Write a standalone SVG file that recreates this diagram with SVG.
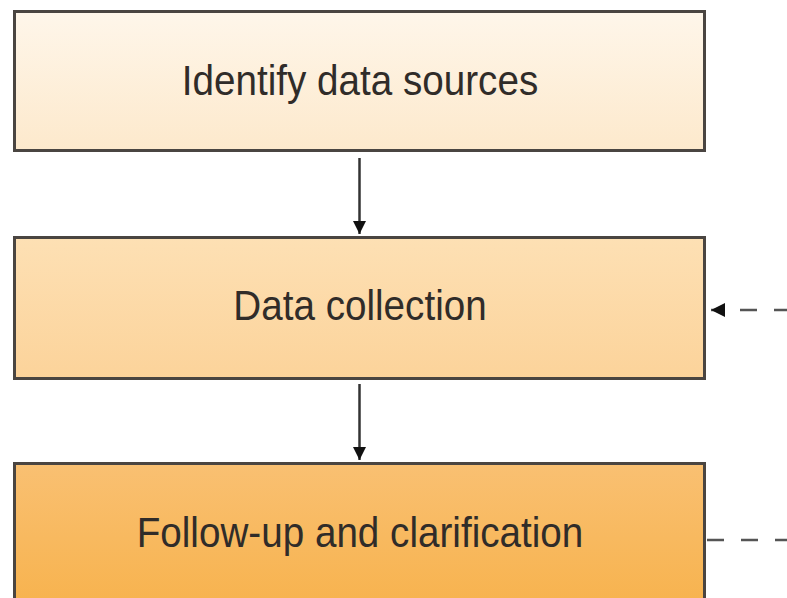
<svg xmlns="http://www.w3.org/2000/svg" width="787" height="598" viewBox="0 0 787 598">
  <defs>
    <linearGradient id="g1" x1="0" y1="0" x2="0" y2="1">
      <stop offset="0" stop-color="#fef6ea"/>
      <stop offset="1" stop-color="#fde9cc"/>
    </linearGradient>
    <linearGradient id="g2" x1="0" y1="0" x2="0" y2="1">
      <stop offset="0" stop-color="#fde0b4"/>
      <stop offset="1" stop-color="#fcd39a"/>
    </linearGradient>
    <linearGradient id="g3" x1="0" y1="0" x2="0" y2="1">
      <stop offset="0" stop-color="#f9c072"/>
      <stop offset="1" stop-color="#f7b24c"/>
    </linearGradient>
    <marker id="arrow" viewBox="0 0 10 10" refX="10" refY="5" markerWidth="15" markerHeight="13" markerUnits="userSpaceOnUse" orient="auto">
      <path d="M0,0 L10,5 L0,10 Z" fill="#111"/>
    </marker>
    <marker id="arrowL" viewBox="0 0 10 10" refX="10" refY="5" markerWidth="18" markerHeight="14" markerUnits="userSpaceOnUse" orient="auto">
      <path d="M0,0 L10,5 L0,10 Z" fill="#111"/>
    </marker>
  </defs>
  <style>
    .box { stroke: #4a4541; stroke-width: 3; }
    .label { font-family: "Liberation Sans", Arial, sans-serif; font-size: 42px; fill: #302c29; text-anchor: middle; }
    .flow { stroke: #333; stroke-width: 2.5; fill: none; }
    .dash { stroke: #555; stroke-width: 2.5; fill: none; stroke-dasharray: 17 17; }
  </style>
  <rect width="787" height="598" fill="#ffffff"/>

  <g id="node-identify">
    <rect class="box" x="14.5" y="11.5" width="690" height="139" fill="url(#g1)"/>
    <text class="label" transform="translate(360 95) scale(0.92 1)">Identify data sources</text>
  </g>

  <g id="node-collection">
    <rect class="box" x="14.5" y="237.5" width="690" height="141" fill="url(#g2)"/>
    <text class="label" transform="translate(360 320) scale(0.92 1)">Data collection</text>
  </g>

  <g id="node-followup">
    <rect class="box" x="14.5" y="463.5" width="690" height="150" fill="url(#g3)"/>
    <text class="label" transform="translate(360 547) scale(0.92 1)">Follow-up and clarification</text>
  </g>

  <g id="connectors">
    <line class="flow" x1="359.5" y1="158" x2="359.5" y2="234" marker-end="url(#arrow)"/>
    <line class="flow" x1="359.5" y1="384" x2="359.5" y2="460" marker-end="url(#arrow)"/>
    <line class="dash" x1="787" y1="310" x2="711" y2="310" stroke-dasharray="20 16" stroke-dashoffset="4" marker-end="url(#arrowL)"/>
    <line class="dash" x1="707" y1="540" x2="787" y2="540"/>
  </g>
</svg>
